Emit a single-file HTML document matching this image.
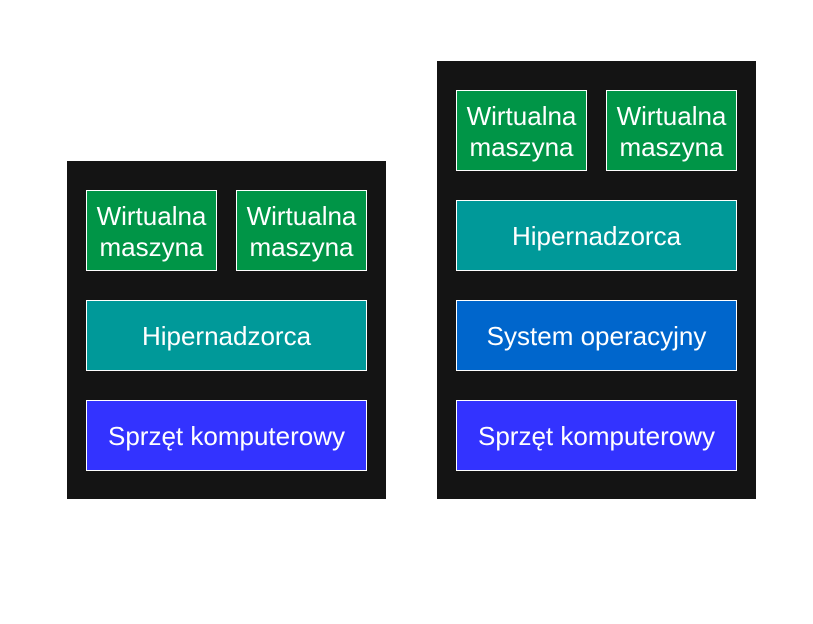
<!DOCTYPE html>
<html><head><meta charset="utf-8"><style>
body{margin:0;width:813px;height:624px;background:#fff;position:relative;overflow:hidden;font-family:"Liberation Sans",Arial,sans-serif}
.p{position:absolute;background:#141414}
.b{position:absolute;box-sizing:border-box;border:1px solid #fff;color:#fff;display:flex;align-items:center;justify-content:center;text-align:center;font-size:26px;line-height:31px;padding-top:2px}
.g{background:#009547}.t{background:#009999}.o{background:#0066cc}.h{background:#3333ff}
</style></head><body>
<div class="p" style="left:67px;top:161px;width:319px;height:338px"></div>
<div class="b g" style="left:86px;top:190px;width:131px;height:81px">Wirtualna<br>maszyna</div>
<div class="b g" style="left:236px;top:190px;width:131px;height:81px">Wirtualna<br>maszyna</div>
<div class="b t" style="left:86px;top:300px;width:281px;height:71px">Hipernadzorca</div>
<div class="b h" style="left:86px;top:400px;width:281px;height:71px">Sprzęt komputerowy</div>

<div class="p" style="left:437px;top:61px;width:319px;height:438px"></div>
<div class="b g" style="left:456px;top:90px;width:131px;height:81px">Wirtualna<br>maszyna</div>
<div class="b g" style="left:606px;top:90px;width:131px;height:81px">Wirtualna<br>maszyna</div>
<div class="b t" style="left:456px;top:200px;width:281px;height:71px">Hipernadzorca</div>
<div class="b o" style="left:456px;top:300px;width:281px;height:71px">System operacyjny</div>
<div class="b h" style="left:456px;top:400px;width:281px;height:71px">Sprzęt komputerowy</div>
</body></html>
